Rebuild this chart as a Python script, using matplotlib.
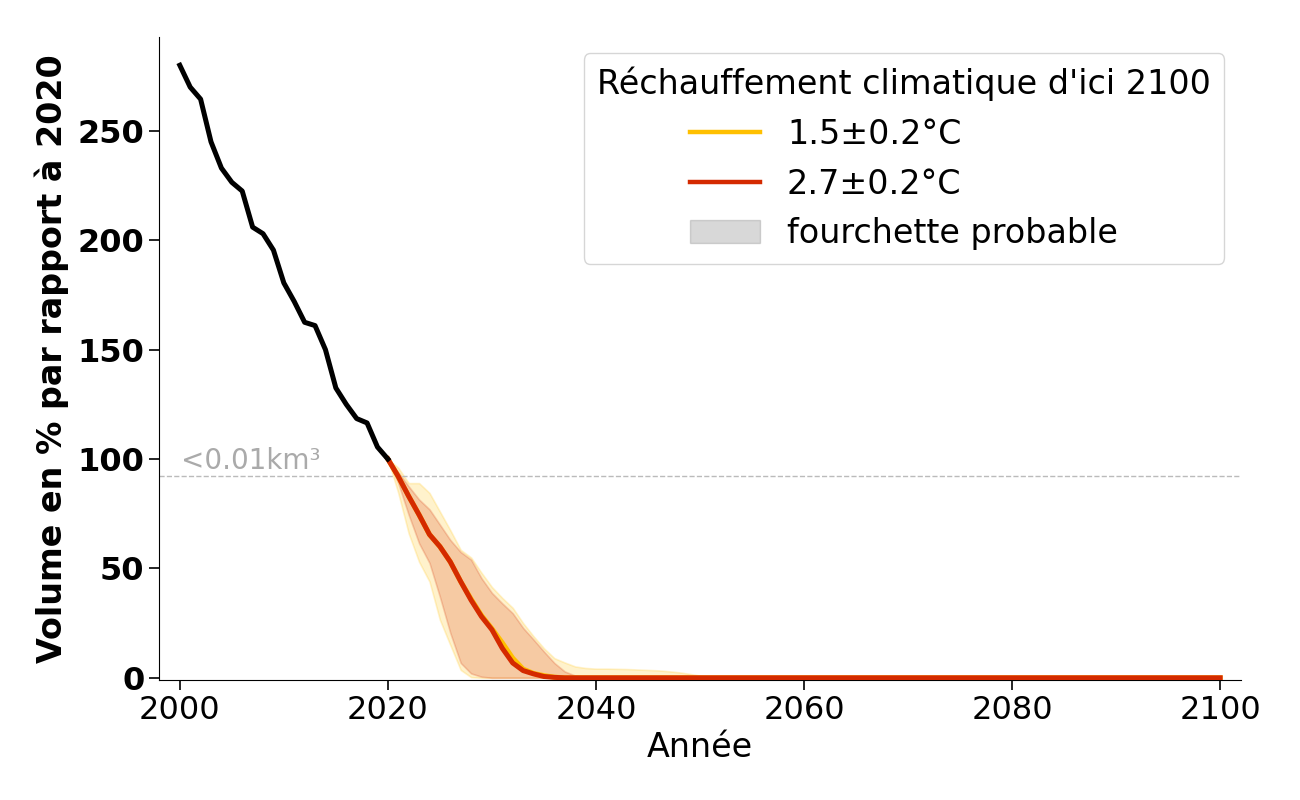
import matplotlib
matplotlib.use("Agg")
import matplotlib.pyplot as plt
from matplotlib.patches import Patch
from matplotlib.lines import Line2D
import numpy as np

# observed volume, % of 2020
obs_years = list(range(2000, 2021))
obs_vol = [280, 270, 264.5, 245, 233, 226.5, 222.5, 206, 203, 195.5, 180.5,
           172, 162.5, 161, 150, 132.5, 125, 118.5, 116.5, 105.5, 100]

# projections 2020..2100
proj_years = list(range(2020, 2101))

# 1.5 degC scenario (values from 2020 on, remaining years zero)
low_median = [100, 92, 83, 74.5, 65.5, 60, 53, 44, 36, 28.5, 22.5,
              16, 9, 4, 2, 1, 0.3]
low_upper = [100, 96, 89, 89, 84.5, 76, 67.5, 58.5, 55, 48, 41.5,
             36.5, 32, 25, 19, 13.5, 9, 7, 5.2, 4.5, 4.2, 4.2, 4.1, 4.0, 3.8,
             3.6, 3.4, 3.0, 2.5, 1.8, 1.0, 0.5, 0.2]
low_lower = [100, 84.5, 66, 53, 44, 26.5, 15, 3.6, 0.3]

# 2.7 degC scenario
high_median = [100, 92, 83, 74.5, 65.5, 60, 53, 44, 35.5, 28, 22,
               13.5, 6.8, 3.3, 1.8, 0.6, 0.2]
high_upper = [100, 94, 87.5, 81.5, 77, 70, 63, 57.5, 54, 45.5, 38.8,
              34, 29.5, 22.8, 17.5, 12, 6.8, 2.9, 1.0, 0.5, 0.3, 0.6, 0.2]
high_lower = [100, 89, 74.5, 61.5, 52.5, 37, 20.5, 6.8, 2, 0.5]

threshold = 92.3

YELLOW = "#FFC000"
RED = "#D42A00"


def pad(values):
    arr = np.zeros(len(proj_years))
    arr[:len(values)] = values
    return arr


fig = plt.figure(figsize=(13, 8), dpi=100)
ax = fig.add_axes([0.1223, 0.15, 0.8323, 0.804])

ax.fill_between(proj_years, pad(low_lower), pad(low_upper),
                color=YELLOW, alpha=0.2, linewidth=1.2)
ax.fill_between(proj_years, pad(high_lower), pad(high_upper),
                color=RED, alpha=0.2, linewidth=1.2)
ax.plot(proj_years, pad(low_median), color=YELLOW, lw=3.6, zorder=3)
ax.plot(proj_years, pad(high_median), color=RED, lw=3.6, zorder=4)
ax.plot(obs_years, obs_vol, color="black", lw=3.6, zorder=5)

ax.axhline(threshold, color="#bbbbbb", lw=1, ls="--", zorder=1)
ax.text(2000.1, threshold + 0.5, "<0.01km³", color="#aaaaaa", fontsize=20,
        ha="left", va="bottom")

ax.set_xlim(1998, 2102)
ax.set_ylim(-1, 293)
ax.set_xticks(range(2000, 2101, 20))
ax.set_yticks(range(0, 251, 50))
ax.tick_params(axis="both", labelsize=23, length=7, width=1.2)
for lab in ax.get_yticklabels():
    lab.set_fontweight("bold")
ax.spines["top"].set_visible(False)
ax.spines["right"].set_visible(False)
ax.set_xlabel("Année", fontsize=24, labelpad=4)
ax.set_ylabel("Volume en % par rapport à 2020", fontsize=24,
              fontweight="bold", labelpad=6)

handles = [
    Line2D([], [], color=YELLOW, lw=3.2),
    Line2D([], [], color=RED, lw=3.2),
    Patch(facecolor="gray", edgecolor="gray", alpha=0.3),
]
labels = ["1.5±0.2°C", "2.7±0.2°C", "fourchette probable"]
ax.legend(handles, labels, title="Réchauffement climatique d'ici 2100",
          loc="upper right", fontsize=24, title_fontsize=24,
          handlelength=2.1, handletextpad=0.8, labelspacing=0.5)

fig.savefig("out.png", dpi=100)
